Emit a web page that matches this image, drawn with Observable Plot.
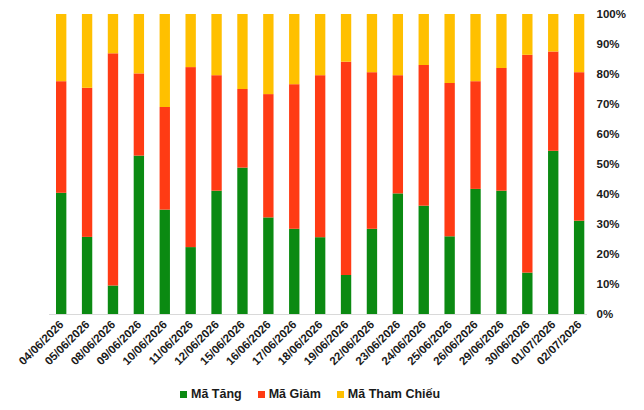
<!DOCTYPE html>
<html>
<head>
<meta charset="utf-8">
<script src="https://cdn.jsdelivr.net/npm/d3@7"></script>
<script src="https://cdn.jsdelivr.net/npm/@observablehq/plot@0.6"></script>
<style>
  html, body { margin: 0; padding: 0; background: #fff; }
  body { width: 644px; height: 410px; overflow: hidden; font-family: "Liberation Sans", Arial, sans-serif; }
  #legend { display: flex; padding-left: 180px; margin-top: 13px; font-weight: bold; font-size: 12.5px; color: #1a1a1a; align-items: center; }
  .item { display: flex; align-items: center; margin-right: 16px; }
  .sw { width: 7px; height: 7px; margin-right: 4px; }
</style>
</head>
<body>
<div id="chart"></div>
<div id="legend"></div>
<script>
const dates = ["04/06/2026","05/06/2026","08/06/2026","09/06/2026","10/06/2026","11/06/2026","12/06/2026","15/06/2026","16/06/2026","17/06/2026","18/06/2026","19/06/2026","22/06/2026","23/06/2026","24/06/2026","25/06/2026","26/06/2026","29/06/2026","30/06/2026","01/07/2026","02/07/2026"];
const maTang = [40.4,25.7,9.5,52.8,34.8,22.3,41.1,48.8,32.2,28.4,25.6,13.0,28.4,40.2,36.1,25.9,41.7,41.1,13.8,54.4,31.1];
const maGiam = [37.2,49.7,77.4,27.4,34.2,60.0,38.5,26.2,41.1,48.2,54.0,71.1,52.2,39.4,46.9,51.1,35.9,40.9,72.6,33.1,49.5];
const maThamChieu = [22.4,24.6,13.1,19.8,31.0,17.7,20.4,25.0,26.7,23.4,20.4,15.9,19.4,20.4,17.0,23.0,22.4,18.0,13.6,12.5,19.4];
const seriesNames = ["Mã Tăng","Mã Giảm","Mã Tham Chiếu"];
const seriesColors = ["#0b8a12","#ff3b14","#ffc000"];
const yTicks = [0,10,20,30,40,50,60,70,80,90,100];

const seriesValues = [maTang, maGiam, maThamChieu];
const data = [];
seriesNames.forEach((s, i) => {
  dates.forEach((d, j) => data.push({date: d, series: s, value: seriesValues[i][j]}));
});

const chart = Plot.plot({
  width: 644,
  height: 374,
  marginLeft: 49,
  marginRight: 57,
  marginTop: 14,
  marginBottom: 60,
  style: {fontFamily: "'Liberation Sans', Arial, sans-serif", fontWeight: "bold", color: "#1a1a1a", background: "#fff"},
  x: {domain: dates, range: [56, 584.3], paddingInner: 0.6, paddingOuter: 0, round: false, label: null},
  y: {domain: [0, 100], label: null},
  color: {domain: seriesNames, range: seriesColors},
  marks: [
    Plot.barY(data, {x: "date", y: "value", fill: "series", z: "series", order: seriesNames}),
    Plot.ruleY([0], {stroke: "#d9d9d9", strokeWidth: 1.2}),
    Plot.axisY({anchor: "right", ticks: yTicks, tickFormat: d => d + "%", tickSize: 0, tickPadding: 9, fontSize: 11.5, label: null}),
    Plot.axisX({tickRotate: -45, tickSize: 0, tickPadding: 8, dx: 0, fontSize: 11.5, label: null})
  ]
});
document.getElementById("chart").appendChild(chart);

const legend = document.getElementById("legend");
seriesNames.forEach((s, i) => {
  const it = document.createElement("div");
  it.className = "item";
  const sw = document.createElement("span");
  sw.className = "sw";
  sw.style.background = seriesColors[i];
  const t = document.createElement("span");
  t.textContent = s;
  it.appendChild(sw); it.appendChild(t);
  legend.appendChild(it);
});
</script>
</body>
</html>
